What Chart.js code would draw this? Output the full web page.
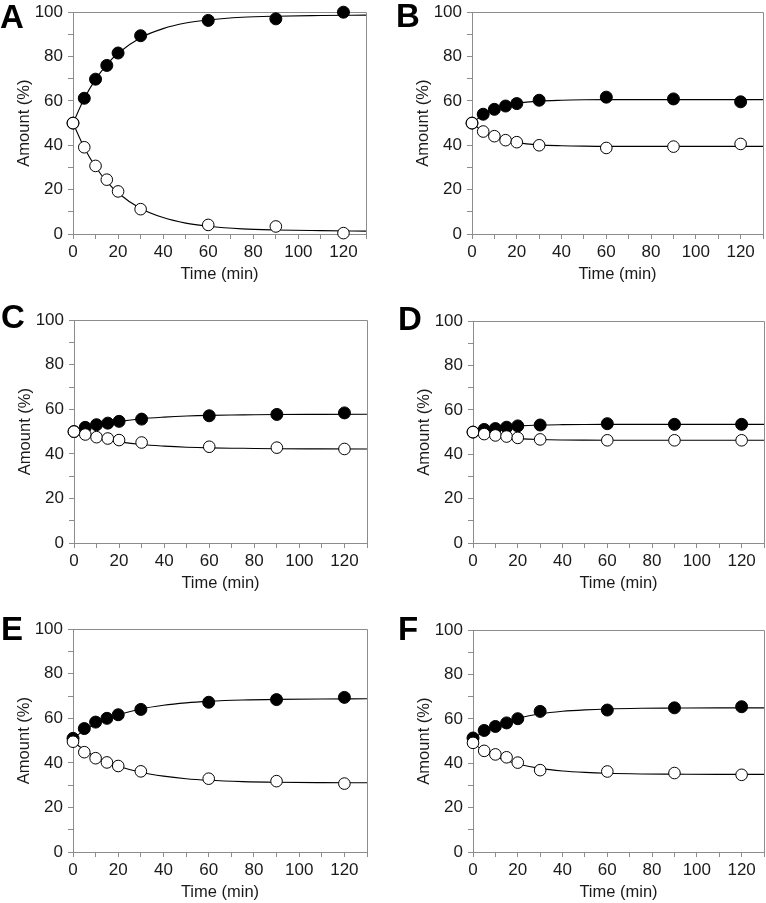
<!DOCTYPE html>
<html><head><meta charset="utf-8">
<script src="https://cdn.jsdelivr.net/npm/chart.js@4/dist/chart.umd.min.js"></script>
<style>
html,body{margin:0;padding:0;background:#fff;width:766px;height:903px;overflow:hidden;}
body{position:relative;font-family:"Liberation Sans",Arial,sans-serif;}
canvas{position:absolute;}
.letter{position:absolute;font:bold 33px "Liberation Sans",Arial,sans-serif;line-height:33px;color:#000;}
</style></head><body>
<script>
// ---------- data ----------
const panelLabels = ['A','B','C','D','E','F'];
const sampleTimes = [0, 5, 10, 15, 20, 30, 60, 90, 120];
const fitTimes    = [0, 5, 10, 15, 20, 30, 40, 50, 60, 75, 90, 110, 130];
const xTickLabels = [0, 20, 40, 60, 80, 100, 120];
const yTickLabels = [0, 20, 40, 60, 80, 100];

const filledA = [50, 61.2, 69.8, 76.0, 81.6, 89.4, 96.3, 97.0, 100.0];
const openA   = [50, 39.1, 30.7, 24.5, 19.2, 11.2, 4.1, 3.4, 0.4];
const fitFilledA = [50, 61.1, 69.7, 76.4, 81.5, 88.5, 92.6, 95.1, 96.5, 97.7, 98.2, 98.5, 98.7];
const fitOpenA   = [50, 38.9, 30.3, 23.6, 18.5, 11.5, 7.4, 4.9, 3.5, 2.3, 1.8, 1.5, 1.3];

const filledB = [50, 54.0, 56.2, 57.7, 58.8, 60.3, 61.7, 60.9, 59.6];
const openB   = [50, 46.2, 44.1, 42.3, 41.4, 40.0, 38.8, 39.4, 40.6];
const fitFilledB = [50, 53.8, 56.3, 57.9, 58.9, 59.9, 60.3, 60.5, 60.6, 60.6, 60.6, 60.6, 60.6];
const fitOpenB   = [50, 46.2, 43.8, 42.2, 41.2, 40.2, 39.8, 39.6, 39.5, 39.5, 39.5, 39.5, 39.5];

const filledC = [50, 51.9, 53.1, 53.8, 54.6, 55.6, 57.1, 57.7, 58.4];
const openC   = [50, 48.7, 47.5, 46.9, 46.2, 45.1, 43.2, 42.8, 42.2];
const fitFilledC = [50, 51.6, 52.8, 53.8, 54.6, 55.8, 56.5, 57.0, 57.3, 57.5, 57.7, 57.75, 57.8];
const fitOpenC   = [50, 48.4, 47.2, 46.2, 45.4, 44.2, 43.5, 43.0, 42.7, 42.5, 42.3, 42.25, 42.2];

const filledD = [50, 51.2, 51.6, 52.2, 52.8, 53.2, 53.8, 53.5, 53.5];
const openD   = [50, 49.1, 48.5, 48.0, 47.4, 46.7, 46.3, 46.3, 46.3];
const fitFilledD = [50, 51.15, 51.9, 52.45, 52.8, 53.2, 53.36, 53.44, 53.47, 53.5, 53.5, 53.5, 53.5];
const fitOpenD   = [50, 48.8, 47.96, 47.4, 47.04, 46.63, 46.45, 46.37, 46.33, 46.3, 46.3, 46.3, 46.3];

const filledE = [51.0, 55.4, 58.3, 60.0, 61.6, 64.0, 67.2, 68.4, 69.4];
const openE   = [49.5, 44.8, 42.1, 40.2, 38.6, 36.2, 32.9, 31.8, 30.7];
const fitFilledE = [51, 54.6, 57.45, 59.74, 61.56, 64.2, 65.86, 66.93, 67.6, 68.2, 68.5, 68.68, 68.75];
const fitOpenE   = [49.5, 45.8, 42.8, 40.4, 38.5, 35.8, 34.05, 32.9, 32.2, 31.6, 31.3, 31.13, 31.05];

const filledF = [51.4, 54.8, 56.6, 58.2, 60.1, 63.4, 64.0, 65.0, 65.5];
const openF   = [49.2, 45.6, 44.0, 42.7, 40.3, 36.9, 36.3, 35.6, 34.8];
const fitFilledF = [51, 54.4, 56.9, 58.9, 60.3, 62.3, 63.45, 64.1, 64.5, 64.8, 64.9, 65, 65];
const fitOpenF   = [49, 45.6, 43.1, 41.1, 39.7, 37.7, 36.55, 35.9, 35.5, 35.2, 35.1, 35, 35];

const panelData = [
  {filled: filledA, open: openA, fitFilled: fitFilledA, fitOpen: fitOpenA},
  {filled: filledB, open: openB, fitFilled: fitFilledB, fitOpen: fitOpenB},
  {filled: filledC, open: openC, fitFilled: fitFilledC, fitOpen: fitOpenC},
  {filled: filledD, open: openD, fitFilled: fitFilledD, fitOpen: fitOpenD},
  {filled: filledE, open: openE, fitFilled: fitFilledE, fitOpen: fitOpenE},
  {filled: filledF, open: openF, fitFilled: fitFilledF, fitOpen: fitOpenF}
];

// ---------- layout (plot-area rectangles, letter positions) ----------
const plotBoxes = [
  {L: 73,  T: 9,   W: 293, H: 225},
  {L: 472, T: 9,   W: 291, H: 225},
  {L: 74,  T: 317, W: 293, H: 226},
  {L: 473, T: 318, W: 291, H: 225},
  {L: 73,  T: 626, W: 294, H: 226},
  {L: 473, T: 627, W: 291, H: 225}
];
const letterPos = [
  {x: 0, y: 0}, {x: 396, y: -1},
  {x: 1, y: 300}, {x: 398, y: 302},
  {x: 1, y: 612}, {x: 398, y: 612}
];

const AXIS = '#8c8c8c';
const TEXT = '#1a1a1a';
const FONT = '"Liberation Sans", Arial, sans-serif';
const Y_W = 60, X_H = 50, PAD_T = 12, PAD_R = 8;

const framePlugin = {
  id: 'frame',
  beforeDatasetsDraw(chart) {
    const {ctx, chartArea: a} = chart;
    ctx.save();
    ctx.strokeStyle = AXIS;
    ctx.lineWidth = 1;
    const r = Math.round(a.right) + 0.5, t = Math.round(a.top) + 0.5;
    ctx.beginPath();
    ctx.moveTo(a.left, t); ctx.lineTo(r, t); ctx.lineTo(r, a.bottom);
    ctx.stroke();
    ctx.restore();
  }
};

function pts(xs, ys) { return xs.map((x, i) => ({x: x, y: ys[i]})); }

panelLabels.forEach((lab, i) => {
  const b = plotBoxes[i], d = panelData[i];
  const cv = document.createElement('canvas');
  const w = Y_W + b.W + PAD_R, h = PAD_T + b.H + X_H;
  cv.width = w; cv.height = h;
  cv.style.left = (b.L - Y_W) + 'px';
  cv.style.top = (b.T - PAD_T) + 'px';
  cv.style.width = w + 'px'; cv.style.height = h + 'px';
  document.body.appendChild(cv);

  const L = document.createElement('div');
  L.className = 'letter';
  L.textContent = lab;
  L.style.left = letterPos[i].x + 'px';
  L.style.top = letterPos[i].y + 'px';
  document.body.appendChild(L);

  new Chart(cv.getContext('2d'), {
    type: 'line',
    data: {
      datasets: [
        {data: pts(sampleTimes, d.open), showLine: false, pointRadius: 5.8, pointHoverRadius: 5.8,
         pointBackgroundColor: '#ffffff', pointBorderColor: '#000', pointBorderWidth: 1},
        {data: pts(sampleTimes, d.filled), showLine: false, pointRadius: 6, pointHoverRadius: 6,
         pointBackgroundColor: '#000', pointBorderColor: '#000', pointBorderWidth: 1},
        {data: pts(fitTimes, d.fitOpen), pointRadius: 0, borderColor: '#000', borderWidth: 1.1,
         cubicInterpolationMode: 'monotone', fill: false},
        {data: pts(fitTimes, d.fitFilled), pointRadius: 0, borderColor: '#000', borderWidth: 1.1,
         cubicInterpolationMode: 'monotone', fill: false}
      ]
    },
    options: {
      responsive: false, animation: false, devicePixelRatio: 1,
      clip: false,
      layout: {padding: {top: PAD_T, right: PAD_R, left: 0, bottom: 0}, autoPadding: false},
      plugins: {legend: {display: false}, tooltip: {enabled: false}},
      events: [],
      scales: {
        x: {
          type: 'linear', min: 0, max: 130,
          afterFit(s) { s.height = X_H; },
          grid: {drawOnChartArea: false, drawTicks: true, tickLength: 5, color: AXIS, lineWidth: 1},
          border: {display: true, color: AXIS, width: 1},
          ticks: {stepSize: 10, autoSkip: false, maxRotation: 0, padding: 3, color: TEXT,
                  font: {family: FONT, size: 17},
                  callback: v => xTickLabels.includes(v) ? String(v) : ''},
          title: {display: true, text: 'Time (min)', color: TEXT, font: {family: FONT, size: 16.5},
                  padding: {top: 0, bottom: 0}}
        },
        y: {
          min: 0, max: 100,
          afterFit(s) { s.width = Y_W; },
          grid: {drawOnChartArea: false, drawTicks: true, tickLength: 5, color: AXIS, lineWidth: 1},
          border: {display: true, color: AXIS, width: 1},
          ticks: {stepSize: 10, autoSkip: false, padding: 5, color: TEXT,
                  font: {family: FONT, size: 17},
                  callback: v => yTickLabels.includes(v) ? String(v) : ''},
          title: {display: true, text: 'Amount (%)', color: TEXT, font: {family: FONT, size: 16.5},
                  padding: {top: 2, bottom: 0}}
        }
      }
    },
    plugins: [framePlugin]
  });
});
</script>
</body></html>
